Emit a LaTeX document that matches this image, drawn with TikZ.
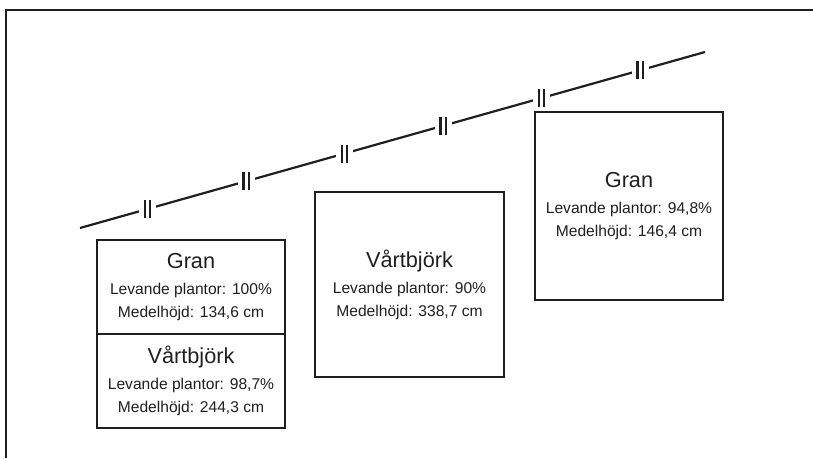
\documentclass[tikz,border=0pt]{standalone}
\usepackage{fontspec}
\setmainfont{Liberation Sans}
\usetikzlibrary{positioning,calc}

\newcommand{\titlesize}{\fontsize{21.7}{26}\selectfont}

\begin{document}
\begin{tikzpicture}[
    x=1pt, y=-1pt,
    tree-box/.style={draw=black!88, line width=2pt, minimum width=188pt, inner sep=0pt,
        align=center, text=black!88, font=\fontsize{15.6}{23}\selectfont},
    brk-gap/.style={fill=white, minimum width=17pt, minimum height=18pt, inner sep=0pt, outer sep=0pt},
    brk-bar/.style={draw=black!88, line width=2.2pt}
  ]
\useasboundingbox (0,0) rectangle (813,458);

% Open frame (top and left edge)
\draw[black!88, line width=1.8pt] (6,458) -- (6,10) -- (813,10);

% Sloped line with break marks
\coordinate (ls) at (80,228);
\coordinate (le) at (705,52);
\draw[black!88, line width=2.2pt] (ls) -- (le);
\foreach \t [count=\i] in {0.108,0.2656,0.4232,0.5808,0.7384,0.896} {
    \node[brk-gap] (gap\i) at ($(ls)!\t!(le)$) {};
    \draw[brk-bar] ([xshift=-2.6pt]gap\i.north) -- ([xshift=-2.6pt]gap\i.south);
    \draw[brk-bar] ([xshift=2.6pt]gap\i.north) -- ([xshift=2.6pt]gap\i.south);
}

% Left box: Gran on top of Vårtbjörk
\node[tree-box, minimum height=94pt] (gran1) at (191,287)
    {{\titlesize Gran}\\[3pt] Levande plantor: 100\%\\ Medelhöjd: 134,6 cm};
\node[tree-box, minimum height=94pt, below=-\pgflinewidth of gran1] (bjork1)
    {{\titlesize Vårtbjörk}\\[3pt] Levande plantor: 98,7\%\\ Medelhöjd: 244,3 cm};

% Middle box
\node[tree-box, minimum width=189pt, minimum height=185pt] (bjork2) at (409.5,284.5)
    {{\titlesize Vårtbjörk}\\[3pt] Levande plantor: 90\%\\ Medelhöjd: 338,7 cm};

% Right box
\node[tree-box, minimum height=188pt] (gran2) at (629,206)
    {{\titlesize Gran}\\[3pt] Levande plantor: 94,8\%\\ Medelhöjd: 146,4 cm};

\end{tikzpicture}
\end{document}
